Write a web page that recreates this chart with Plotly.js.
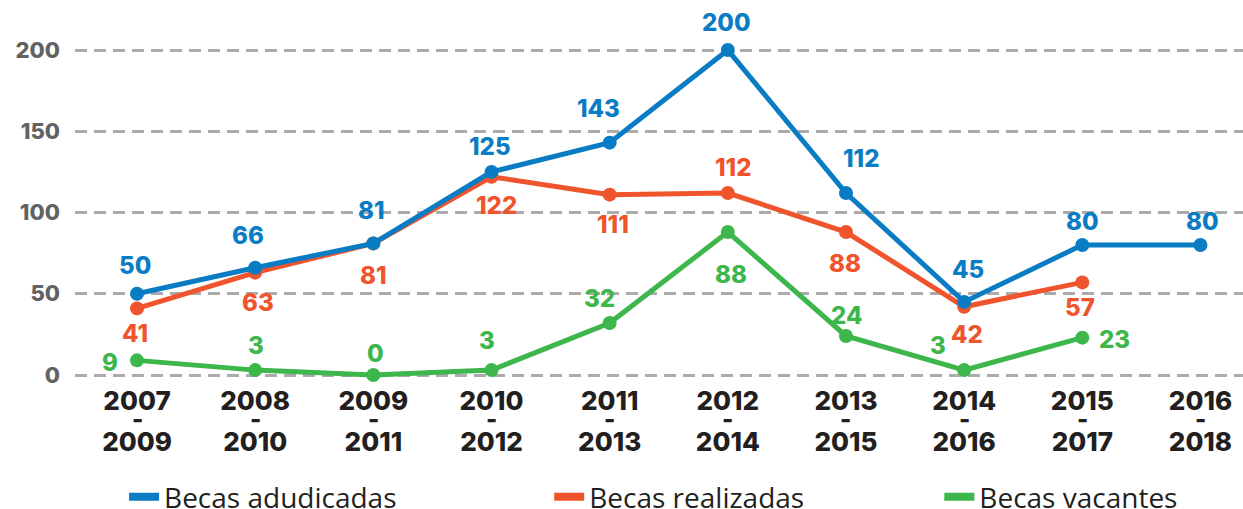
<!DOCTYPE html>
<html>
<head>
<meta charset="utf-8">
<script src="https://cdn.plot.ly/plotly-3.0.1.min.js"></script>
<style>html,body{margin:0;padding:0;background:#fff;}#chart{width:1243px;height:509px;}</style>
</head>
<body>
<div id="chart"></div>
<script>
const categories = ['2007-2009','2008-2010','2009-2011','2010-2012','2011-2013','2012-2014','2013-2015','2014-2016','2015-2017','2016-2018'];
const adjudicadas = [50, 66, 81, 125, 143, 200, 112, 45, 80, 80];
const realizadas = [41, 63, 81, 122, 111, 112, 88, 42, 57, null];
const vacantes = [9, 3, 0, 3, 32, 88, 24, 3, 23, null];
const yTicks = [0, 50, 100, 150, 200];
const seriesNames = ['Becas adudicadas', 'Becas realizadas', 'Becas vacantes'];

// label offsets in pixels [dx, dy] (dy positive = downwards)
const offBlue = [[-2,-28],[-7,-32],[-2,-33],[-2,-25],[-11,-34],[-1,-28],[16,-35],[4,-32],[0,-24],[2,-24]];
const offOrange = [[-2,25],[3,30],[0,32],[5,29],[3,30],[6,-26],[-1,31],[3,28],[-2,25],[0,0]];
const offGreen = [[-27,2],[1,-25],[2,-22],[-5,-30],[-10,-25],[3,42],[1,-21],[-26,-25],[32,2],[0,0]];

const BLUE = '#0a7cc4', ORANGE = '#f0542c', GREEN = '#3db64b';
const NUMFONT = 'Inter, "DejaVu Sans", sans-serif';

function lineTrace(vals, color){
  return {
    x: categories, y: vals, type: 'scatter', mode: 'lines+markers', showlegend: false,
    line: {color: color, width: 5}, marker: {color: color, size: 14}, cliponaxis: false, hoverinfo: 'skip'
  };
}
function legendTrace(name, color, legendId){
  return {x: [0], y: [null], xaxis: 'x2', type: 'scatter', mode: 'lines', name: name,
          legend: legendId, line: {color: color, width: 8}};
}

const traces = [
  lineTrace(vacantes, GREEN),
  lineTrace(realizadas, ORANGE),
  lineTrace(adjudicadas, BLUE),
  legendTrace(seriesNames[0], BLUE, 'legend'),
  legendTrace(seriesNames[1], ORANGE, 'legend2'),
  legendTrace(seriesNames[2], GREEN, 'legend3')
];

function valueLabels(vals, offs, color){
  const out = [];
  vals.forEach((v, i) => {
    if (v === null) return;
    out.push({
      x: categories[i], y: v, xref: 'x', yref: 'y', text: String(v), showarrow: false,
      xanchor: 'center', yanchor: 'middle', xshift: offs[i][0], yshift: -offs[i][1],
      font: {family: NUMFONT, size: 24, color: color, weight: 800}
    });
  });
  return out;
}

const hyphens = categories.map(c => ({
  x: c, xref: 'x', y: -0.103, yref: 'paper', text: '-', showarrow: false,
  xanchor: 'center', yanchor: 'middle',
  font: {family: NUMFONT, size: 24, color: '#231f20', weight: 800}
}));

const tickFont = {family: NUMFONT, size: 26, color: '#231f20', weight: 800};
function legendBox(x){
  return {
    orientation: 'h', x: x, xanchor: 'left', y: -0.308, yanchor: 'middle',
    font: {family: '"Open Sans", Lato, sans-serif', size: 28, color: '#231f20'},
    itemwidth: 30, bgcolor: 'rgba(0,0,0,0)'
  };
}

const layout = {
  width: 1243, height: 509,
  margin: {l: 75, r: 0, t: 0, b: 129, autoexpand: false},
  paper_bgcolor: '#fff', plot_bgcolor: '#fff',
  showlegend: true,
  legend: legendBox(0.042),
  legend2: legendBox(0.406),
  legend3: legendBox(0.740),
  xaxis: {
    type: 'category', range: [-0.525, 9.36], automargin: false,
    tickvals: categories, ticktext: categories.map(c => c.split('-')[0]),
    showgrid: false, zeroline: false, showline: false, ticks: '',
    tickfont: tickFont, ticklabelstandoff: 3
  },
  xaxis2: {
    type: 'linear', range: [-0.525, 9.36], overlaying: 'x', anchor: 'y', side: 'bottom', automargin: false,
    tickvals: categories.map((c, i) => i), ticktext: categories.map(c => c.split('-')[1]),
    showgrid: false, zeroline: false, showline: false, ticks: '',
    tickfont: tickFont, ticklabelstandoff: 44
  },
  yaxis: {
    range: [-3.08, 230.8], automargin: false, tickvals: yTicks, ticktext: yTicks.map(String),
    showgrid: true, gridcolor: '#ababab', gridwidth: 3, griddash: '12px,7px',
    zeroline: false, showline: false, ticks: '',
    tickfont: {family: NUMFONT, size: 22, color: '#626262', weight: 800},
    ticklabelstandoff: 14
  },
  annotations: valueLabels(adjudicadas, offBlue, BLUE)
    .concat(valueLabels(realizadas, offOrange, ORANGE))
    .concat(valueLabels(vacantes, offGreen, GREEN))
    .concat(hyphens)
};

Plotly.newPlot('chart', traces, layout, {displayModeBar: false, staticPlot: true});
</script>
</body>
</html>
